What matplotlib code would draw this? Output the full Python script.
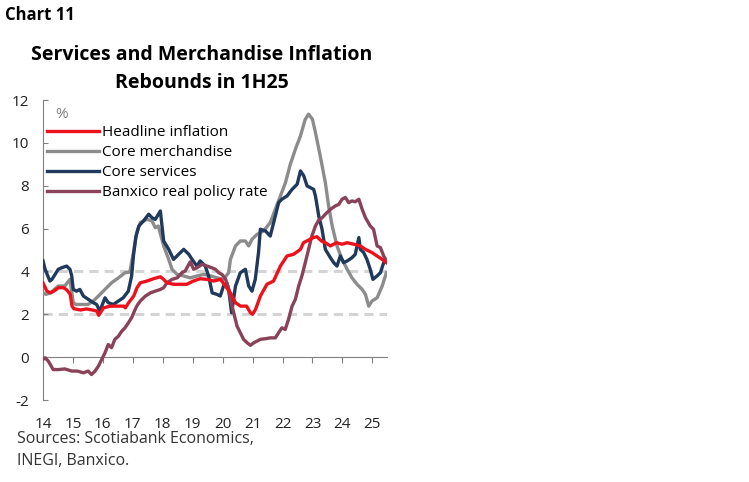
import matplotlib
matplotlib.use("Agg")
import matplotlib.pyplot as plt

plt.rcParams['font.family'] = ['Open Sans', 'DejaVu Sans']
plt.rcParams['axes.unicode_minus'] = False

# ---------------- Data (decimal year, %) ----------------
headline_x = [2014.0, 2014.13, 2014.25, 2014.36, 2014.52, 2014.69, 2014.8, 2014.91, 2014.97, 2015.03,
              2015.25, 2015.45, 2015.65, 2015.8, 2015.86, 2016.02, 2016.25, 2016.7, 2016.75, 2016.86,
              2017.03, 2017.14, 2017.25, 2017.47, 2017.69, 2017.92, 2018.03, 2018.14, 2018.36, 2018.8,
              2019.02, 2019.25, 2019.47, 2019.7, 2019.93, 2020.26, 2020.43, 2020.6, 2020.8, 2020.93,
              2021.0, 2021.1, 2021.26, 2021.48, 2021.7, 2021.93, 2022.15, 2022.37, 2022.6, 2022.7,
              2023.03, 2023.15, 2023.3, 2023.43, 2023.6, 2023.8, 2023.99, 2024.16, 2024.38, 2024.6,
              2024.77, 2024.99, 2025.16, 2025.33, 2025.47]
headline_y = [3.47, 3.08, 3.0, 3.08, 3.24, 3.24, 3.13, 2.93, 2.38, 2.26,
              2.2, 2.25, 2.2, 2.15, 1.95, 2.3, 2.38, 2.38, 2.3, 2.54,
              2.85, 3.24, 3.47, 3.55, 3.66, 3.75, 3.63, 3.47, 3.4, 3.4,
              3.55, 3.66, 3.63, 3.55, 3.63, 3.0, 2.54, 2.38, 2.38, 2.07,
              2.0, 2.23, 2.85, 3.4, 3.55, 4.25, 4.72, 4.8, 5.03, 5.34,
              5.58, 5.62, 5.42, 5.34, 5.19, 5.34, 5.27, 5.34, 5.27, 5.19,
              5.03, 4.88, 4.72, 4.56, 4.41]

merch_x = [2014.0, 2014.1, 2014.25, 2014.51, 2014.73, 2014.9, 2015.01, 2015.1, 2015.51, 2015.68,
           2015.85, 2016.07, 2016.29, 2016.52, 2016.74, 2016.9, 2017.02, 2017.13, 2017.25, 2017.47,
           2017.64, 2017.75, 2017.85, 2018.03, 2018.2, 2018.31, 2018.48, 2018.7, 2018.92, 2019.15,
           2019.37, 2019.6, 2019.81, 2020.03, 2020.2, 2020.26, 2020.43, 2020.59, 2020.76, 2020.87,
           2020.98, 2021.15, 2021.37, 2021.59, 2021.76, 2021.93, 2022.1, 2022.26, 2022.43, 2022.6,
           2022.76, 2022.87, 2023.0, 2023.1, 2023.26, 2023.43, 2023.54, 2023.66, 2023.82, 2023.99,
           2024.16, 2024.32, 2024.49, 2024.66, 2024.77, 2024.88, 2024.99, 2025.16, 2025.33, 2025.47]
merch_y = [3.0, 2.93, 3.0, 3.32, 3.32, 3.63, 2.54, 2.46, 2.46, 2.62,
           2.85, 3.16, 3.47, 3.7, 3.94, 3.97, 4.88, 5.8, 6.28, 6.43,
           6.36, 6.04, 6.12, 5.19, 4.56, 4.1, 3.86, 3.79, 3.7, 3.79,
           3.86, 3.79, 3.7, 3.63, 3.94, 4.56, 5.19, 5.42, 5.42, 5.19,
           5.5, 5.73, 5.89, 6.28, 6.9, 7.52, 8.15, 9.0, 9.7, 10.33,
           11.1, 11.34, 11.1, 10.48, 9.39, 8.15, 7.06, 6.12, 5.19, 4.56,
           4.1, 3.7, 3.4, 3.16, 2.93, 2.38, 2.62, 2.77, 3.32, 3.94]

serv_x = [2014.0, 2014.07, 2014.23, 2014.3, 2014.51, 2014.62, 2014.79, 2014.9, 2014.96, 2015.01,
          2015.12, 2015.23, 2015.35, 2015.51, 2015.68, 2015.79, 2015.9, 2016.07, 2016.18, 2016.35,
          2016.52, 2016.68, 2016.85, 2016.96, 2017.02, 2017.1, 2017.2, 2017.36, 2017.53, 2017.64,
          2017.75, 2017.92, 2018.03, 2018.2, 2018.36, 2018.53, 2018.7, 2018.87, 2018.98, 2019.14,
          2019.25, 2019.42, 2019.53, 2019.65, 2019.81, 2019.92, 2020.03, 2020.14, 2020.2, 2020.3,
          2020.43, 2020.59, 2020.76, 2020.87, 2020.98, 2021.09, 2021.2, 2021.26, 2021.43, 2021.59,
          2021.76, 2021.87, 2021.98, 2022.15, 2022.32, 2022.49, 2022.6, 2022.71, 2022.82, 2022.93,
          2023.04, 2023.1, 2023.21, 2023.32, 2023.43, 2023.6, 2023.71, 2023.82, 2023.93, 2024.04,
          2024.16, 2024.32, 2024.43, 2024.55, 2024.6, 2024.71, 2024.82, 2024.93, 2025.02, 2025.16,
          2025.27, 2025.38, 2025.47]
serv_y = [4.49, 4.1, 3.55, 3.63, 4.1, 4.17, 4.25, 4.1, 3.79, 3.16,
          3.08, 3.16, 2.85, 2.7, 2.54, 2.46, 2.15, 2.77, 2.54, 2.46,
          2.62, 2.77, 3.08, 3.79, 4.72, 5.6, 6.12, 6.36, 6.67, 6.51,
          6.43, 6.82, 5.42, 5.03, 4.56, 4.8, 5.03, 4.8, 4.56, 4.25,
          4.49, 4.25, 3.79, 3.0, 2.93, 2.85, 3.32, 3.47, 3.16, 2.07,
          3.32, 3.94, 4.1, 3.32, 3.08, 3.63, 4.9, 5.97, 5.89, 5.65,
          6.59, 7.21, 7.37, 7.52, 7.83, 8.07, 8.69, 8.46, 7.99, 7.91,
          7.83, 7.52, 6.59, 5.97, 5.03, 4.64, 4.41, 4.25, 4.72, 4.41,
          4.49, 4.64, 4.8, 5.58, 5.03, 4.88, 4.56, 4.1, 3.63, 3.79,
          3.94, 4.41, 4.49]

rate_x = [2014.0, 2014.07, 2014.18, 2014.34, 2014.51, 2014.73, 2014.96, 2015.15, 2015.35, 2015.51,
          2015.62, 2015.74, 2015.85, 2015.96, 2016.07, 2016.18, 2016.29, 2016.4, 2016.52, 2016.63,
          2016.74, 2016.85, 2016.96, 2017.07, 2017.14, 2017.25, 2017.42, 2017.59, 2017.75, 2017.92,
          2018.03, 2018.14, 2018.31, 2018.48, 2018.64, 2018.75, 2018.87, 2018.92, 2019.03, 2019.14,
          2019.31, 2019.48, 2019.64, 2019.76, 2019.87, 2019.98, 2020.1, 2020.2, 2020.26, 2020.37,
          2020.48, 2020.59, 2020.7, 2020.82, 2020.93, 2021.04, 2021.15, 2021.26, 2021.43, 2021.59,
          2021.76, 2021.87, 2021.98, 2022.09, 2022.2, 2022.32, 2022.43, 2022.54, 2022.65, 2022.76,
          2022.87, 2022.98, 2023.1, 2023.21, 2023.32, 2023.43, 2023.6, 2023.77, 2023.88, 2023.99,
          2024.1, 2024.21, 2024.32, 2024.43, 2024.55, 2024.66, 2024.77, 2024.93, 2025.04, 2025.16,
          2025.27, 2025.38, 2025.47]
rate_y = [-0.1, -0.03, -0.19, -0.58, -0.58, -0.55, -0.65, -0.65, -0.73, -0.65,
          -0.81, -0.65, -0.42, -0.11, 0.2, 0.59, 0.44, 0.83, 0.98, 1.21,
          1.37, 1.6, 1.84, 2.2, 2.4, 2.62, 2.85, 3.0, 3.08, 3.16,
          3.24, 3.47, 3.63, 3.7, 3.94, 4.02, 4.33, 4.45, 4.1, 4.17,
          4.33, 4.25, 4.17, 4.1, 3.94, 3.86, 3.63, 3.2, 2.7, 2.07,
          1.45, 1.14, 0.83, 0.67, 0.55, 0.67, 0.75, 0.83, 0.86, 0.9,
          0.9, 1.14, 1.37, 1.29, 1.76, 2.38, 2.7, 3.32, 3.8, 4.41,
          5.03, 5.65, 6.12, 6.4, 6.5, 6.67, 6.9, 7.06, 7.13, 7.37,
          7.45, 7.21, 7.29, 7.25, 7.37, 6.9, 6.51, 6.12, 5.97, 5.19,
          5.11, 4.72, 4.49]

year_ticks = list(range(2014, 2026))
year_labels = [str(y)[2:] for y in year_ticks]
y_ticks = [-2, 0, 2, 4, 6, 8, 10, 12]
target_lines = [2, 4]

# ---------------- Figure ----------------
fig = plt.figure(figsize=(7.49, 4.82), dpi=100)
ax = fig.add_axes([43 / 749, 82 / 482, 344 / 749, 300 / 482])

for t in target_lines:
    ax.axhline(t, color="#d4d4d4", lw=2.2, ls=(0, (3, 2)), zorder=1)

ax.plot(headline_x, headline_y, color="#ec111a", lw=2.4, label="Headline inflation", zorder=4)
ax.plot(merch_x, merch_y, color="#8c8c8c", lw=2.4, label="Core merchandise", zorder=3)
ax.plot(serv_x, serv_y, color="#1f3a5c", lw=2.4, label="Core services", zorder=3)
ax.plot(rate_x, rate_y, color="#8a4259", lw=2.4, label="Banxico real policy rate", zorder=3)

ax.set_xlim(2014.0, 2025.49)
ax.set_ylim(-2, 12)

for s in ["top", "right"]:
    ax.spines[s].set_visible(False)
ax.spines["left"].set_color("#808080")
ax.spines["bottom"].set_color("#808080")
ax.spines["bottom"].set_position(("data", 0))

ax.set_yticks(y_ticks)
ax.set_xticks(year_ticks)
ax.set_xticklabels(year_labels)
ax.tick_params(axis="y", direction="in", length=3.5, color="#808080", labelsize=11,
               labelcolor="#222222", pad=10)
ax.tick_params(axis="x", direction="out", length=4, color="#808080", labelsize=11,
               labelcolor="#222222", pad=39)

ax.text(0.035, 0.975, "%", transform=ax.transAxes, fontsize=11, color="#808080", va="top")

ax.legend(loc="upper left", bbox_to_anchor=(47 / 749, 1 - 125 / 482), bbox_transform=fig.transFigure,
          frameon=False, fontsize=11, handlelength=3.4, handletextpad=0.2, labelspacing=0.33,
          borderaxespad=0, borderpad=0)

fig.text(5 / 749, 1 - 15 / 482, "Chart 11", fontsize=12, fontweight="bold", va="center", ha="left")
fig.text(202 / 749, 1 - 69 / 482, "Services and Merchandise Inflation\nRebounds in 1H25",
         fontsize=14, fontweight="bold", ha="center", va="center", linespacing=1.55)
fig.text(17 / 749, 1 - 450 / 482, "Sources: Scotiabank Economics,\nINEGI, Banxico.",
         fontsize=11.5, color="#333333", ha="left", va="center", linespacing=1.55)

fig.savefig("out.png", dpi=100)
